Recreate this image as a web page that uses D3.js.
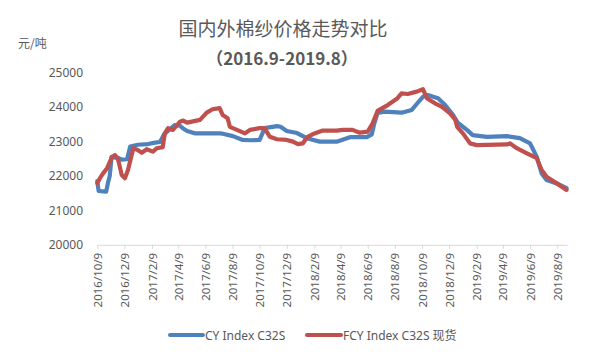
<!DOCTYPE html>
<html><head><meta charset="utf-8">
<script src="https://cdn.jsdelivr.net/npm/d3@7"></script>
<style>
html,body{margin:0;padding:0;background:#fff;}
svg{display:block;}
</style></head>
<body>
<svg id="chart" width="597" height="360"></svg>
<script>
const title = "国内外棉纱价格走势对比";
const subtitle = "（2016.9-2019.8）";
const yUnit = "元/吨";
const seriesNames = ["CY Index C32S", "FCY Index C32S 现货"];
const yTicks = [20000, 21000, 22000, 23000, 24000, 25000];
const xTickLabels = ["2016/10/9","2016/12/9","2017/2/9","2017/4/9","2017/6/9","2017/8/9","2017/10/9","2017/12/9","2018/2/9","2018/4/9","2018/6/9","2018/8/9","2018/10/9","2018/12/9","2019/2/9","2019/4/9","2019/6/9","2019/8/9"];

const cyDates = ["2016-10-09","2016-10-12","2016-10-29","2016-11-02","2016-11-06","2016-11-10","2016-11-25","2016-12-03","2016-12-15","2016-12-22","2017-01-08","2017-01-31","2017-02-16","2017-02-27","2017-03-08","2017-03-17","2017-04-01","2017-04-13","2017-04-20","2017-04-29","2017-05-16","2017-06-12","2017-07-11","2017-07-18","2017-08-10","2017-09-01","2017-09-17","2017-10-09","2017-10-16","2017-10-20","2017-11-17","2017-11-25","2017-12-09","2018-01-01","2018-01-23","2018-02-21","2018-03-31","2018-04-30","2018-06-07","2018-06-18","2018-06-24","2018-07-01","2018-07-17","2018-08-24","2018-09-16","2018-09-29","2018-10-11","2018-10-22","2018-11-14","2018-11-30","2018-12-18","2018-12-29","2019-01-18","2019-01-31","2019-03-04","2019-04-18","2019-05-17","2019-06-09","2019-06-24","2019-07-05","2019-07-16","2019-08-08","2019-08-30"];
const cyValues = [21850,21560,21540,21800,22000,22550,22520,22470,22480,22850,22900,22920,22960,22980,23200,23300,23470,23450,23370,23300,23230,23230,23230,23220,23150,23040,23030,23040,23250,23380,23440,23420,23300,23240,23090,22990,22990,23120,23120,23200,23530,23820,23860,23830,23910,24110,24290,24340,24250,24050,23760,23530,23330,23180,23130,23150,23090,22940,22550,22070,21880,21780,21640];

const fcyDates = ["2016-10-09","2016-10-15","2016-10-22","2016-10-31","2016-11-11","2016-11-18","2016-11-25","2016-12-03","2016-12-10","2016-12-17","2016-12-29","2017-01-08","2017-01-17","2017-01-28","2017-02-11","2017-02-20","2017-03-05","2017-03-10","2017-03-17","2017-03-28","2017-04-13","2017-04-20","2017-04-29","2017-05-28","2017-06-12","2017-06-25","2017-07-11","2017-07-18","2017-07-29","2017-08-03","2017-08-19","2017-09-06","2017-09-17","2017-10-09","2017-10-20","2017-11-01","2017-11-17","2017-12-09","2017-12-23","2018-01-03","2018-01-14","2018-01-25","2018-02-06","2018-02-28","2018-03-31","2018-04-14","2018-05-06","2018-05-22","2018-06-09","2018-06-20","2018-07-01","2018-07-24","2018-08-15","2018-08-24","2018-09-07","2018-09-27","2018-10-11","2018-10-20","2018-11-07","2018-11-23","2018-12-11","2018-12-23","2018-12-27","2019-01-09","2019-01-25","2019-02-09","2019-04-18","2019-04-25","2019-05-10","2019-06-02","2019-06-24","2019-07-05","2019-07-16","2019-08-08","2019-08-30"];
const fcyValues = [21790,21930,22070,22220,22540,22600,22460,22020,21930,22170,22800,22750,22670,22770,22700,22800,22830,23240,23380,23330,23570,23600,23540,23620,23830,23930,23960,23760,23670,23420,23330,23230,23330,23380,23380,23130,23060,23040,22990,22920,22940,23130,23210,23310,23310,23330,23330,23250,23280,23520,23880,24050,24250,24390,24370,24440,24510,24250,24100,24000,23810,23620,23420,23230,22940,22890,22910,22940,22800,22650,22510,22170,21970,21780,21590];

const colors = ["#4F81BD", "#C0504D"];
const textColor = "#595959";
const sans = "'Noto Sans', 'Noto Sans CJK SC', sans-serif";
const cjk = "'Noto Sans CJK SC', sans-serif";

const parse = d3.timeParse("%Y-%m-%d");
const parseTick = d3.timeParse("%Y/%m/%d");
const svg = d3.select("#chart");
svg.append("rect").attr("width",597).attr("height",360).attr("fill","#fff");

const x = d3.scaleTime().domain([parse("2016-10-09"), parse("2019-08-31")]).range([97.3, 567]);
const y = d3.scaleLinear().domain([20000, 25000]).range([244.8, 72.3]);

// Title
svg.append("text").attr("x", 283).attr("y", 36).attr("text-anchor","middle")
  .attr("font-family", cjk).attr("font-size", 19).attr("fill", textColor).text(title);
svg.append("text").attr("x", 282).attr("y", 65).attr("text-anchor","middle")
  .attr("font-family", cjk).attr("font-weight","bold").attr("font-size", 17).attr("fill", textColor).text(subtitle);
svg.append("text").attr("x", 18).attr("y", 48)
  .attr("font-family", cjk).attr("font-size", 12).attr("fill", textColor).text(yUnit);

// Y axis (labels only)
const yAxis = d3.axisLeft(y).tickValues(yTicks).tickSize(0).tickPadding(0).tickFormat(d3.format("d"));
const gy = svg.append("g").attr("transform","translate(83,0)").call(yAxis);
gy.select(".domain").remove();
gy.selectAll("text").attr("font-family", sans).attr("font-size", 12).attr("fill", textColor);

// X axis
const tickDates = xTickLabels.map(parseTick);
const xAxis = d3.axisBottom(x).tickValues(tickDates).tickSize(4).tickSizeOuter(0)
  .tickFormat(d3.timeFormat("%Y/%-m/%-d"));
const gx = svg.append("g").attr("transform", `translate(0,${y(20000)})`).call(xAxis);
gx.select(".domain").attr("stroke", "#d9d9d9").attr("stroke-width", 1);
gx.selectAll(".tick line").attr("stroke", "#d9d9d9");
gx.selectAll("text")
  .attr("font-family", sans).attr("font-size", 11.5).attr("fill", textColor)
  .attr("text-anchor", "end").attr("transform", "rotate(-90)")
  .attr("x", -8).attr("y", 0).attr("dy", "0.35em");

// Lines
const line = d3.line().x(d => x(d.date)).y(d => y(d.value)).curve(d3.curveLinear);
const series = [
  cyDates.map((d,i) => ({date: parse(d), value: cyValues[i]})),
  fcyDates.map((d,i) => ({date: parse(d), value: fcyValues[i]}))
];
series.forEach((s, i) => {
  svg.append("path").datum(s).attr("d", line).attr("fill","none")
    .attr("stroke", colors[i]).attr("stroke-width", 4.2)
    .attr("stroke-linejoin","round").attr("stroke-linecap","round");
});

// Legend
const legendItems = [{x1:170, x2:203, tx:205}, {x1:307, x2:341, tx:343}];
legendItems.forEach((l, i) => {
  svg.append("line").attr("x1", l.x1).attr("x2", l.x2).attr("y1", 335).attr("y2", 335)
    .attr("stroke", colors[i]).attr("stroke-width", 4).attr("stroke-linecap","round");
  svg.append("text").attr("x", l.tx).attr("y", 339.5)
    .attr("font-family", sans).attr("font-size", 12).attr("fill", textColor).text(seriesNames[i]);
});
</script>
</body></html>
